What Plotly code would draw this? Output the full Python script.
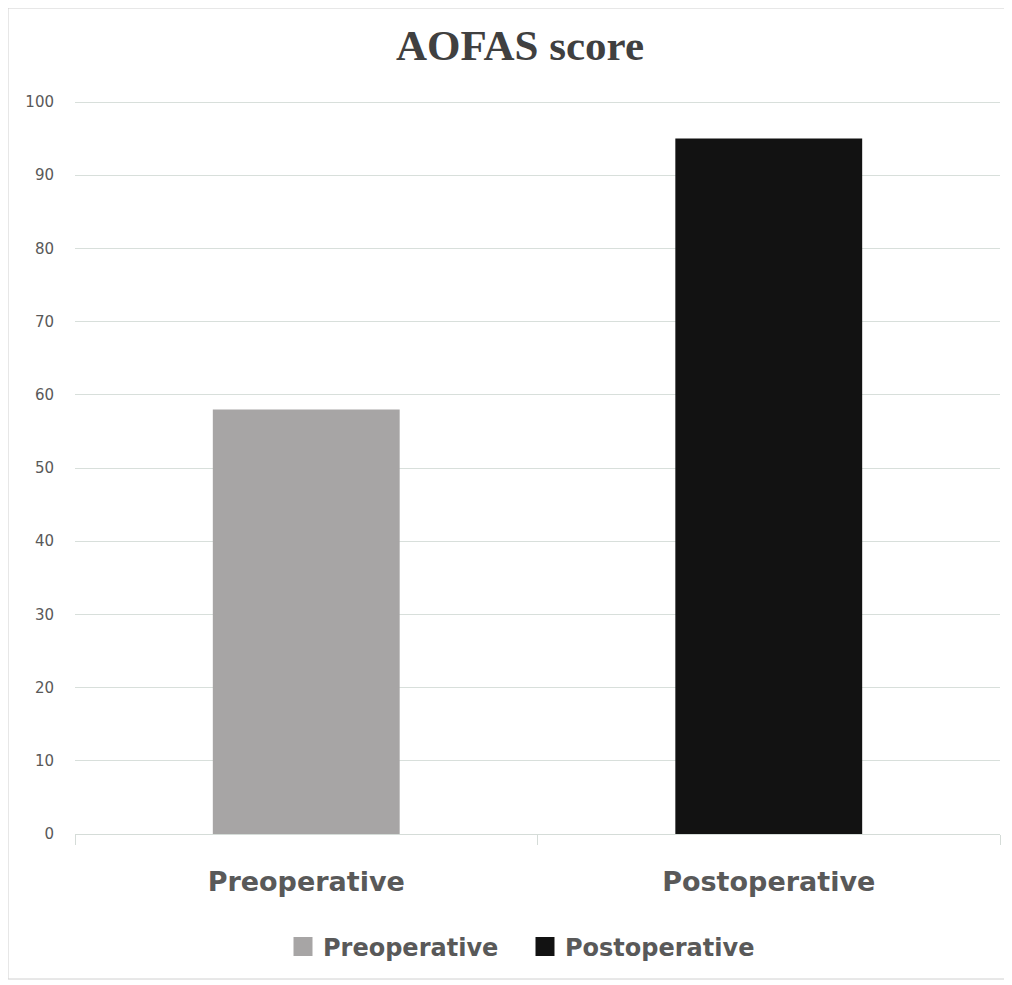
import plotly.graph_objects as go

categories = ["Preoperative", "Postoperative"]
scores = [58, 95]
bar_colors = ["#a7a5a5", "#121212"]
y_ticks = [0, 10, 20, 30, 40, 50, 60, 70, 80, 90, 100]

W, H = 1012, 985
OFF = 8  # page offset of the figure (body margin)
L, R, T, B = 67, 20, 90, 159
pw, ph = W - L - R, H - T - B
X0 = L + OFF
Y0 = H - B + OFF
Y_MAX = 100 * ph / 732  # leaves room so the 100 gridline is drawn

def px_x(x):
    return (x - X0) / pw

def px_y(y):
    return (Y0 - y) / ph

fig = go.Figure()
for cat, val, col in zip(categories, scores, bar_colors):
    fig.add_trace(go.Bar(x=[cat], y=[val], marker=dict(color=col, line=dict(width=0)),
                         width=0.404, showlegend=False, name=cat))
for cat, col in zip(categories, bar_colors):
    fig.add_trace(go.Scatter(x=[None], y=[None], mode="markers", name=cat,
                             marker=dict(symbol="square", size=16, color=col,
                                         line=dict(color=col, width=3))))

fig.update_layout(
    width=W, height=H,
    margin=dict(l=L, r=R, t=T, b=B),
    paper_bgcolor="white", plot_bgcolor="white",
    barmode="overlay",
    title=dict(text="<b>AOFAS score</b>", x=512 / W, xref="container", xanchor="center",
               y=1 - 37 / H, yref="container", yanchor="middle",
               font=dict(family="Liberation Serif", size=43, color="#404040")),
    xaxis=dict(type="category", categoryorder="array", categoryarray=categories,
               tickson="boundaries", ticks="outside", ticklen=10, tickcolor="#d5dcd8",
               showline=True, linecolor="#d5dcd8", linewidth=1, showgrid=False,
               tickfont=dict(family="DejaVu Sans", size=27, color="#595959", weight="bold"),
               ticklabelstandoff=24),
    yaxis=dict(range=[0, Y_MAX], tickvals=y_ticks, showgrid=True, gridcolor="#d8dfdb",
               gridwidth=1, zeroline=False, showline=False, ticks="",
               tickfont=dict(family="DejaVu Sans", size=15, color="#595959"),
               ticklabelstandoff=20),
    legend=dict(orientation="h", x=px_x(283), xanchor="left", y=px_y(947), yanchor="middle",
                font=dict(family="DejaVu Sans", size=24, color="#595959", weight="bold"),
                itemsizing="trace", itemwidth=30, entrywidth=197, entrywidthmode="pixels"),
    showlegend=True,
)
fig.add_shape(type="rect", xref="paper", yref="paper",
              x0=px_x(8), x1=px_x(1011), y0=px_y(979), y1=px_y(8),
              line=dict(color="#d0d0d0", width=1), layer="below")

fig.write_html("out.html")
